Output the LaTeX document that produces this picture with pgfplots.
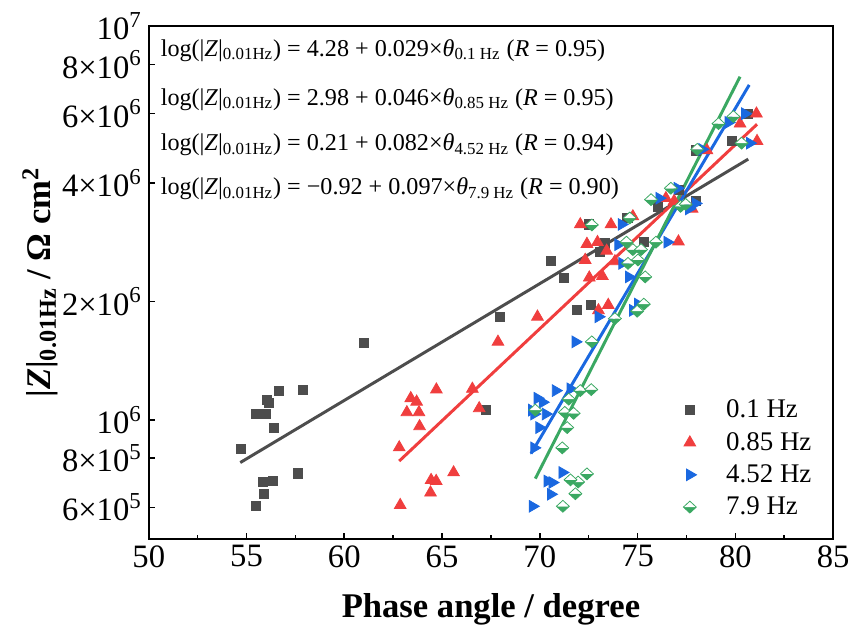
\documentclass[border=0pt]{standalone}
\usepackage{fontspec}
\setmainfont{Liberation Serif}
\usepackage{pgfplots}
\pgfplotsset{compat=1.18}
\definecolor{cgrey}{RGB}{77,77,77}
\definecolor{cred}{RGB}{240,62,62}
\definecolor{cblue}{RGB}{26,104,224}
\definecolor{cgreen}{RGB}{58,168,98}

\begin{document}
\begin{tikzpicture}
\begin{axis}[
    scale only axis,
    width=346pt, height=259pt,
    xmin=50, xmax=85,
    ymode=log, ymin=5e5, ymax=1e7,
    xtick={50,55,...,85},
    minor x tick num=1,
    ytick={6e5,8e5,1e6,2e6,4e6,6e6,8e6,1e7},
    yticklabels={6×10\textsuperscript{5},8×10\textsuperscript{5},10\textsuperscript{6},2×10\textsuperscript{6},4×10\textsuperscript{6},6×10\textsuperscript{6},8×10\textsuperscript{6},10\textsuperscript{7}},
    yminorticks=false,
    tick align=inside,
    xtick pos=bottom, ytick pos=left,
    major tick length=3pt, minor tick length=2pt,
    axis line style={line width=1pt},
    every tick/.style={black, line width=0.8pt},
    tick label style={font=\fontsize{16.5}{19}\selectfont},
    /pgf/number format/assume math mode=true,
    xlabel={\textbf{Phase angle / degree}},
    ylabel={\textbf{|\textit{Z}|\textsubscript{0.01Hz} / Ω cm\textsuperscript{2}}},
    label style={font=\fontsize{17.5}{20}\selectfont},
    xlabel style={yshift=-6pt},
    ylabel style={yshift=-5pt},
    legend style={draw=none, fill=none, at={(0.772,0.025)}, anchor=south west,
        font=\fontsize{13.6}{16}\selectfont, row sep=1.8pt,
        /tikz/every odd column/.append style={column sep=13pt}},
    legend cell align=left,
]

% measured points
\addplot[only marks, mark=square*, mark size=2.3pt, color=cgrey] coordinates {
(55.49,6.04e5) (55.91,6.48e5) (55.82,6.96e5) (56.36,6.99e5) (57.63,7.32e5)
(54.73,8.43e5) (56.41,9.54e5) (55.49,1.036e6) (55.99,1.036e6) (56.16,1.105e6)
(56.05,1.127e6) (56.67,1.188e6) (57.88,1.195e6) (61.01,1.57e6) (67.22,1.06e6)
(67.95,1.83e6) (71.90,1.90e6) (72.63,1.96e6) (71.23,2.30e6) (70.56,2.53e6)
(73.08,2.68e6) (73.33,2.81e6) (75.32,2.83e6) (72.49,3.14e6) (74.48,3.26e6)
(76.03,3.49e6) (77.96,3.60e6) (77.12,3.85e6) (77.96,4.84e6) (79.82,5.11e6)
(80.66,6.00e6)
};
\addlegendentry{0.1 Hz}

\addplot[only marks, mark=triangle*, mark size=3.4pt, color=cred] coordinates {
(62.86,6.08e5) (64.41,6.54e5) (64.44,7.04e5) (64.70,7.00e5) (65.59,7.36e5)
(62.81,8.52e5) (63.85,9.64e5) (63.20,1.046e6) (63.82,1.046e6) (66.90,1.071e6)
(63.70,1.113e6) (63.40,1.136e6) (64.71,1.195e6) (66.55,1.20e6) (67.86,1.58e6)
(69.88,1.83e6) (73.00,1.90e6) (73.50,1.96e6) (72.53,2.30e6) (73.20,2.32e6)
(72.32,2.55e6) (73.84,2.53e6) (73.42,2.69e6) (72.41,2.80e6) (72.95,2.83e6)
(77.09,2.84e6) (72.07,3.14e6) (73.64,3.14e6) (74.76,3.29e6) (77.79,3.44e6)
(76.45,3.66e6) (76.87,3.60e6) (78.55,4.84e6) (81.11,5.11e6) (80.24,5.66e6)
(81.08,6.00e6)
};
\addlegendentry{0.85 Hz}

\addplot[only marks, mark=triangle*, mark size=3.4pt, mark options={rotate=-90}, color=cblue] coordinates {
(69.63,6.04e5) (70.56,6.48e5) (70.39,7.00e5) (70.64,6.94e5) (71.15,7.36e5)
(69.71,8.50e5) (69.97,9.57e5) (69.71,1.036e6) (70.30,1.036e6) (69.60,1.06e6)
(70.14,1.11e6) (69.88,1.136e6) (70.81,1.188e6) (71.57,1.20e6) (71.82,1.58e6)
(73.00,1.83e6) (74.76,1.90e6) (75.02,1.97e6) (74.55,2.31e6) (74.21,2.50e6)
(74.01,2.79e6) (76.52,2.83e6) (74.18,3.14e6) (77.63,3.44e6) (77.96,3.55e6)
(76.11,3.66e6) (77.04,3.88e6) (78.30,4.87e6) (80.74,5.05e6) (79.65,5.70e6)
(80.49,6.00e6)
};
\addlegendentry{4.52 Hz}

\addplot[only marks, mark=halfdiamond*, mark size=3pt, color=cgreen, mark options={fill=cgreen, xscale=1.45}] coordinates {
(71.18,6.04e5) (71.82,6.50e5) (71.96,6.96e5) (71.57,7.05e5) (72.41,7.30e5)
(71.15,8.50e5) (71.40,9.57e5) (71.28,1.046e6) (71.73,1.04e6) (69.77,1.06e6)
(71.48,1.13e6) (72.07,1.188e6) (72.63,1.195e6) (72.66,1.58e6) (73.84,1.81e6)
(74.98,1.89e6) (75.32,1.97e6) (75.39,2.31e6) (74.51,2.50e6) (75.02,2.55e6)
(74.76,2.71e6) (75.18,2.71e6) (74.43,2.83e6) (75.94,2.83e6) (72.66,3.13e6)
(74.60,3.26e6) (77.20,3.49e6) (77.46,3.53e6) (75.69,3.63e6) (76.70,3.88e6)
(78.05,4.87e6) (80.32,5.05e6) (79.14,5.66e6) (79.90,5.90e6)
};
\addlegendentry{7.9 Hz}

% linear fits (log scale)
\addplot[cgrey, line width=1.5pt, forget plot] coordinates {(54.68,7.80e5) (80.66,4.60e6)};
\addplot[cred, line width=1.5pt, forget plot] coordinates {(62.81,7.87e5) (81.11,5.64e6)};
\addplot[cblue, line width=1.5pt, forget plot] coordinates {(69.55,8.22e5) (80.71,7.10e6)};
\addplot[cgreen, line width=1.5pt, forget plot] coordinates {(69.77,7.10e5) (80.24,7.45e6)};

\begin{scope}[every node/.style={anchor=west, font=\fontsize{12.2}{14}\selectfont, inner sep=0pt}]
\node at (rel axis cs:0.017,0.953) {log(|\textit{Z}|\textsubscript{0.01Hz}) = 4.28 + 0.029×\textit{θ}\textsubscript{0.1 Hz} (\textit{R} = 0.95)};
\node at (rel axis cs:0.017,0.857) {log(|\textit{Z}|\textsubscript{0.01Hz}) = 2.98 + 0.046×\textit{θ}\textsubscript{0.85 Hz} (\textit{R} = 0.95)};
\node at (rel axis cs:0.017,0.769) {log(|\textit{Z}|\textsubscript{0.01Hz}) = 0.21 + 0.082×\textit{θ}\textsubscript{4.52 Hz} (\textit{R} = 0.94)};
\node at (rel axis cs:0.017,0.683) {log(|\textit{Z}|\textsubscript{0.01Hz}) = −0.92 + 0.097×\textit{θ}\textsubscript{7.9 Hz} (\textit{R} = 0.90)};
\end{scope}

\end{axis}
% blank margins, as in the original
\path ([xshift=-8pt]current axis.outer west);
\path ([yshift=3pt]current axis.outer north);
\end{tikzpicture}
\end{document}
